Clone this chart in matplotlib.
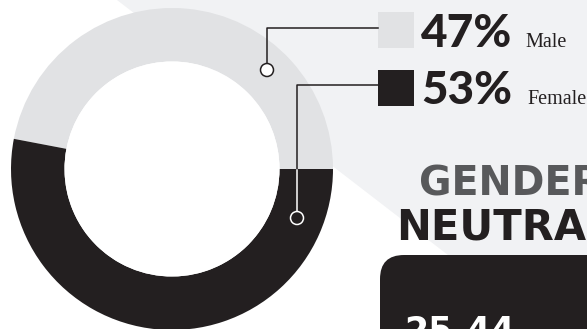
import matplotlib
matplotlib.use("Agg")
import matplotlib.pyplot as plt
import matplotlib.patches as patches

# data
labels = ["Male", "Female"]
shares = [47, 53]
pct_text = ["47%", "53%"]
title_lines = ["GENDER", "NEUTRAL"]
age_group = "25-44"

W, H = 587, 329
DARK = "#231f20"
LIGHT = "#e1e2e4"
BG = "#f1f2f4"


def Y(y):
    # image row -> data y
    return H - y


fig = plt.figure(figsize=(W / 100, H / 100), dpi=100)
ax = fig.add_axes([0, 0, 1, 1])

# light background wedge
ax.add_patch(patches.Polygon([(117, Y(0)), (W, Y(0)), (W, Y(H)), (544, Y(H))],
                             closed=True, facecolor=BG, edgecolor="none", zorder=0))

# donut
center = (172, Y(169))
ax.pie(shares, colors=[LIGHT, DARK], startangle=0, counterclock=True,
       center=center, radius=161, frame=True,
       wedgeprops=dict(width=53.5, edgecolor="none"))
ax.add_patch(patches.Circle(center, 161 - 53.5, facecolor="white",
                            edgecolor="none", zorder=2))

# legend squares + text
sq_top = [12, 70]
sq_col = [LIGHT, DARK]
for i in range(2):
    ax.add_patch(patches.Rectangle((378, Y(sq_top[i] + 36)), 36, 36,
                                   facecolor=sq_col[i], edgecolor="none", zorder=3))
    base = [47, 104][i]
    ax.text(421, Y(base), pct_text[i], fontsize=33, fontweight="black",
            family=["Lato", "DejaVu Sans"], color=DARK, va="baseline", ha="left")
    ax.text([525, 527][i], Y(base), labels[i], fontsize=14.5,
            family=["Liberation Serif"], color=DARK, va="baseline", ha="left")

# connectors
lw = 1.1
ax.plot([378, 267, 267], [Y(28), Y(28), Y(63.5)], color=DARK, lw=lw, zorder=4)
ax.add_patch(patches.Circle((267, Y(70)), 6.5, facecolor="white", edgecolor=DARK,
                            lw=lw, zorder=5))
ax.plot([378, 297, 297], [Y(85), Y(85), Y(170)], color=DARK, lw=lw, zorder=4)
ax.plot([297, 297], [Y(170), Y(211.5)], color="white", lw=lw, zorder=4)
ax.add_patch(patches.Circle((297, Y(218)), 6.5, facecolor=DARK, edgecolor="white",
                            lw=lw, zorder=5))

# heading
ax.text(419, Y(196), title_lines[0], fontsize=28.5, fontweight="bold",
        family="DejaVu Sans", color="#58595b", va="baseline", ha="left")
ax.text(396, Y(240), title_lines[1], fontsize=30, fontweight="bold",
        family="DejaVu Sans", color=DARK, va="baseline", ha="left")

# dark box at bottom right
ax.add_patch(patches.FancyBboxPatch((380 + 24, Y(H + 40)), 400, Y(255) - Y(H + 40) - 24,
                                    boxstyle="round,pad=24,rounding_size=24",
                                    facecolor=DARK, edgecolor="none", zorder=3))
ax.text(404, Y(341), age_group, fontsize=25, fontweight="bold",
        family="DejaVu Sans", color="white", va="baseline", ha="left", zorder=4)

ax.set_xlim(0, W)
ax.set_ylim(0, H)
ax.set_aspect("equal")
ax.axis("off")

fig.savefig("out.png", dpi=100, facecolor="white")
